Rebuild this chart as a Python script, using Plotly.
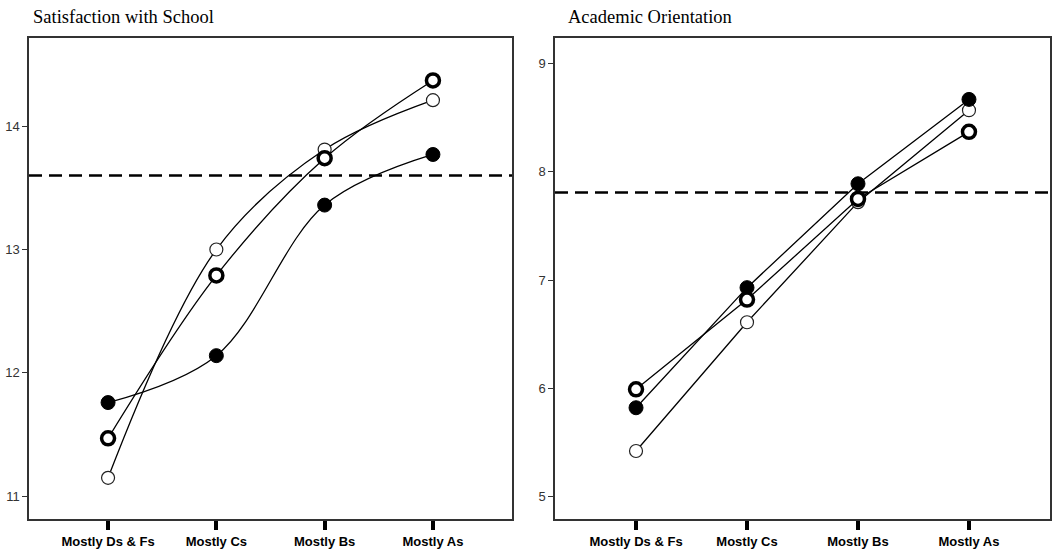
import plotly.graph_objects as go

categories = ["Mostly Ds & Fs", "Mostly Cs", "Mostly Bs", "Mostly As"]

sat_open = [11.15, 13.00, 13.81, 14.21]
sat_ring = [11.47, 12.79, 13.74, 14.37]
sat_filled = [11.76, 12.14, 13.36, 13.77]
sat_ref = 13.6

aca_open = [5.42, 6.61, 7.72, 8.57]
aca_ring = [5.99, 6.82, 7.75, 8.37]
aca_filled = [5.82, 6.93, 7.89, 8.67]
aca_ref = 7.81

titles = ["Satisfaction with School", "Academic Orientation"]

W, H = 1053, 549
fig = go.Figure()

def add_series(xa, ya, vals, kind, shape, smooth):
    if kind == "open":
        marker = dict(size=13, color="white", line=dict(color="#222", width=1.2))
    elif kind == "ring":
        marker = dict(size=13, color="white", line=dict(color="black", width=3.5))
    else:
        marker = dict(size=14, color="black", line=dict(color="black", width=1))
    fig.add_trace(go.Scatter(
        x=categories, y=vals, xaxis=xa, yaxis=ya, mode="lines+markers",
        line=dict(color="black", width=1.3, shape=shape, smoothing=smooth),
        marker=marker, showlegend=False, hoverinfo="skip"))

for s, k in [(sat_filled, "filled"), (sat_open, "open"), (sat_ring, "ring")]:
    add_series("x", "y", s, k, "spline", 1.0)
for s, k in [(aca_open, "open"), (aca_filled, "filled"), (aca_ring, "ring")]:
    add_series("x2", "y2", s, k, "linear", 0)

ydom = [(549 - 523) / H, (549 - 38) / H]
xdom1 = [29 / W, 512 / W]
xdom2 = [555 / W, 1050 / W]

xcommon = dict(showline=True, linecolor="#333", linewidth=1.5, mirror=True,
               ticks="outside", ticklen=9, tickwidth=4, tickcolor="black",
               showgrid=False, zeroline=False, range=[-0.73, 3.73],
               tickfont=dict(family="Liberation Sans, Arial", size=13, color="black"),
               type="category")
ycommon = dict(showline=True, linecolor="#333", linewidth=1.5, mirror=True,
               ticks="outside", ticklen=5, tickwidth=1.2, tickcolor="#333",
               showgrid=False, zeroline=False, dtick=1,
               tickfont=dict(family="Liberation Sans, Arial", size=13, color="#333"))

fig.update_layout(
    width=W, height=H, margin=dict(l=0, r=0, t=0, b=0),
    paper_bgcolor="white", plot_bgcolor="white",
    xaxis=dict(domain=xdom1, anchor="y", **xcommon),
    yaxis=dict(domain=ydom, anchor="x", range=[10.815, 14.716], **ycommon),
    xaxis2=dict(domain=xdom2, anchor="y2", **xcommon),
    yaxis2=dict(domain=ydom, anchor="x2", range=[4.79, 9.24], **ycommon),
)

# bold x tick labels
fig.update_xaxes(ticktext=["<b>" + c + "</b>" for c in categories], tickvals=categories)

fig.add_shape(type="line", xref="x domain", yref="y", x0=0, x1=1, y0=sat_ref, y1=sat_ref,
              line=dict(color="black", width=2.5, dash="13px,7px"))
fig.add_shape(type="line", xref="x2 domain", yref="y2", x0=0, x1=1, y0=aca_ref, y1=aca_ref,
              line=dict(color="black", width=2.5, dash="13px,7px"))

fig.add_annotation(text=titles[0], xref="paper", yref="paper", x=31 / W, y=1 - 17 / H,
                   xanchor="left", yanchor="middle", showarrow=False,
                   font=dict(family="Liberation Serif, Times New Roman", size=18.5, color="black"))
fig.add_annotation(text=titles[1], xref="paper", yref="paper", x=566 / W, y=1 - 17 / H,
                   xanchor="left", yanchor="middle", showarrow=False,
                   font=dict(family="Liberation Serif, Times New Roman", size=18.5, color="black"))

fig.write_html("out.html", config={"displayModeBar": False},
               post_script="document.body.style.margin='0';document.body.style.overflow='hidden';")
